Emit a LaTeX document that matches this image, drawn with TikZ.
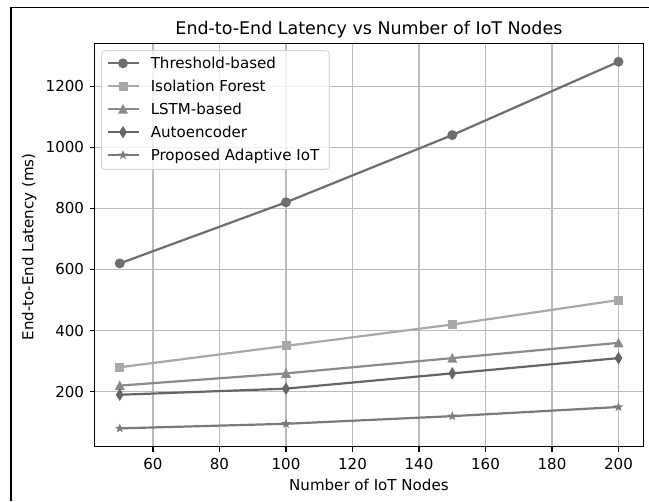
\documentclass[tikz,border=0pt]{standalone}
\usepackage{fontspec}
\setmainfont{DejaVu Sans}
\usetikzlibrary{calc}
\definecolor{cThr}{HTML}{6E6E6E}
\definecolor{cIso}{HTML}{A8A8A8}
\definecolor{cLstm}{HTML}{8A8A8A}
\definecolor{cAuto}{HTML}{666666}
\definecolor{cProp}{HTML}{7A7A7A}
\definecolor{gridgray}{HTML}{BBBBBB}
\definecolor{legedge}{HTML}{CCCCCC}
\begin{document}
\begin{tikzpicture}[x=0.75pt,y=-0.75pt,
  lbl/.style={inner sep=0pt, font=\fontsize{11.3}{13}\selectfont},
  titlelbl/.style={inner sep=0pt, font=\fontsize{13.1}{16}\selectfont},
  gridline/.style={draw=gridgray, line width=0.8pt},
  spine/.style={draw=black, line width=0.85pt},
  tickmark/.style={draw=black, line width=0.85pt},
  series/.style={line width=1.65pt, line join=round},
  mk circle/.pic={\fill (0,0) circle (5);},
  mk square/.pic={\fill (-4.5,-4.5) rectangle (4.5,4.5);},
  mk tri/.pic={\fill (0,-5.2) -- (-5,4.5) -- (5,4.5) -- cycle;},
  mk diamond/.pic={\fill (0,-6.3) -- (3.9,0) -- (0,6.3) -- (-3.9,0) -- cycle;},
  mk star/.pic={\fill (-90:5.1) -- (-54:2) -- (-18:5.1) -- (18:2) -- (54:5.1)
      -- (90:2) -- (126:5.1) -- (162:2) -- (198:5.1) -- (234:2) -- cycle;}
]
\useasboundingbox (0,0) rectangle (649,501);
\fill[white] (0,0) rectangle (649,501);
% page frame (top and left edges)
\draw[black, line width=0.8pt] (11,501) -- (11,7.3) -- (649,7.3);

% data space: x = number of nodes, y = latency in ms
\begin{scope}[shift={(-46.5,452.8)}, xscale=3.325, yscale=-0.3055]
  \coordinate (axSW) at (42.5,20);
  \coordinate (axNE) at (207.5,1340);
  \foreach \v in {60,80,...,200} {
    \draw[gridline] (\v,20) -- (\v,1340);
    \coordinate (xt\v) at (\v,20);
  }
  \foreach \v in {200,400,...,1200} {
    \draw[gridline] (42.5,\v) -- (207.5,\v);
    \coordinate (yt\v) at (42.5,\v);
  }
  % Threshold-based
  \coordinate (thr1) at (50,620);  \coordinate (thr2) at (100,820);
  \coordinate (thr3) at (150,1040); \coordinate (thr4) at (200,1280);
  % Isolation Forest
  \coordinate (iso1) at (50,280);  \coordinate (iso2) at (100,350);
  \coordinate (iso3) at (150,420); \coordinate (iso4) at (200,500);
  % LSTM-based
  \coordinate (lst1) at (50,220);  \coordinate (lst2) at (100,260);
  \coordinate (lst3) at (150,310); \coordinate (lst4) at (200,360);
  % Autoencoder
  \coordinate (aut1) at (50,190);  \coordinate (aut2) at (100,210);
  \coordinate (aut3) at (150,260); \coordinate (aut4) at (200,310);
  % Proposed Adaptive IoT
  \coordinate (pro1) at (50,80);   \coordinate (pro2) at (100,95);
  \coordinate (pro3) at (150,120); \coordinate (pro4) at (200,150);
\end{scope}

% series: line first, then markers
\draw[series, cThr] (thr1) -- (thr2) -- (thr3) -- (thr4);
\foreach \i in {1,...,4} \pic[cThr] at (thr\i) {mk circle};
\draw[series, cIso] (iso1) -- (iso2) -- (iso3) -- (iso4);
\foreach \i in {1,...,4} \pic[cIso] at (iso\i) {mk square};
\draw[series, cLstm] (lst1) -- (lst2) -- (lst3) -- (lst4);
\foreach \i in {1,...,4} \pic[cLstm] at (lst\i) {mk tri};
\draw[series, cAuto] (aut1) -- (aut2) -- (aut3) -- (aut4);
\foreach \i in {1,...,4} \pic[cAuto] at (aut\i) {mk diamond};
\draw[series, cProp] (pro1) -- (pro2) -- (pro3) -- (pro4);
\foreach \i in {1,...,4} \pic[cProp] at (pro\i) {mk star};

% axes frame, ticks and tick labels
\draw[spine] (axSW) rectangle (axNE);
\foreach \v in {60,80,...,200} {
  \draw[tickmark] (xt\v) -- ++(0,5);
  \node[lbl, anchor=north] (xl\v) at ([yshift=-8.6pt]xt\v) {\v};
}
\foreach \v in {200,400,...,1200} {
  \draw[tickmark] (yt\v) -- ++(-5,0);
  \node[lbl, anchor=east] (yl\v) at ([xshift=-7.9pt]yt\v) {\v};
}

% title and axis labels
\node[titlelbl, anchor=base] (title) at (368.9,34.5) {End-to-End Latency vs Number of IoT Nodes};
\node[lbl, anchor=base] (xlabel) at (368.9,490.5) {Number of IoT Nodes};
\node[lbl, anchor=base, rotate=90] (ylabel) at (33.5,247) {End-to-End Latency (ms)};

% legend
\draw[draw=legedge, draw opacity=0.8, fill=white, fill opacity=0.8, line width=0.8pt,
      rounded corners=2.3pt] (101.7,50.7) rectangle (329.3,169.3);
\foreach \k/\nm/\col/\mk/\txt in {0/thr/cThr/mk circle/Threshold-based,
                                  1/iso/cIso/mk square/Isolation Forest,
                                  2/lst/cLstm/mk tri/LSTM-based,
                                  3/aut/cAuto/mk diamond/Autoencoder,
                                  4/pro/cProp/mk star/Proposed Adaptive IoT} {
  \coordinate (lg\nm a) at (107.5,63.3+22.95*\k);
  \coordinate (lg\nm b) at (138.5,63.3+22.95*\k);
  \draw[series, \col] (lg\nm a) -- (lg\nm b);
  \pic[\col] at ($(lg\nm a)!0.5!(lg\nm b)$) {\mk};
  \node[lbl, anchor=base west] (lg\nm t) at (150.5,68.6+22.95*\k) {\txt};
}
\end{tikzpicture}
\end{document}
